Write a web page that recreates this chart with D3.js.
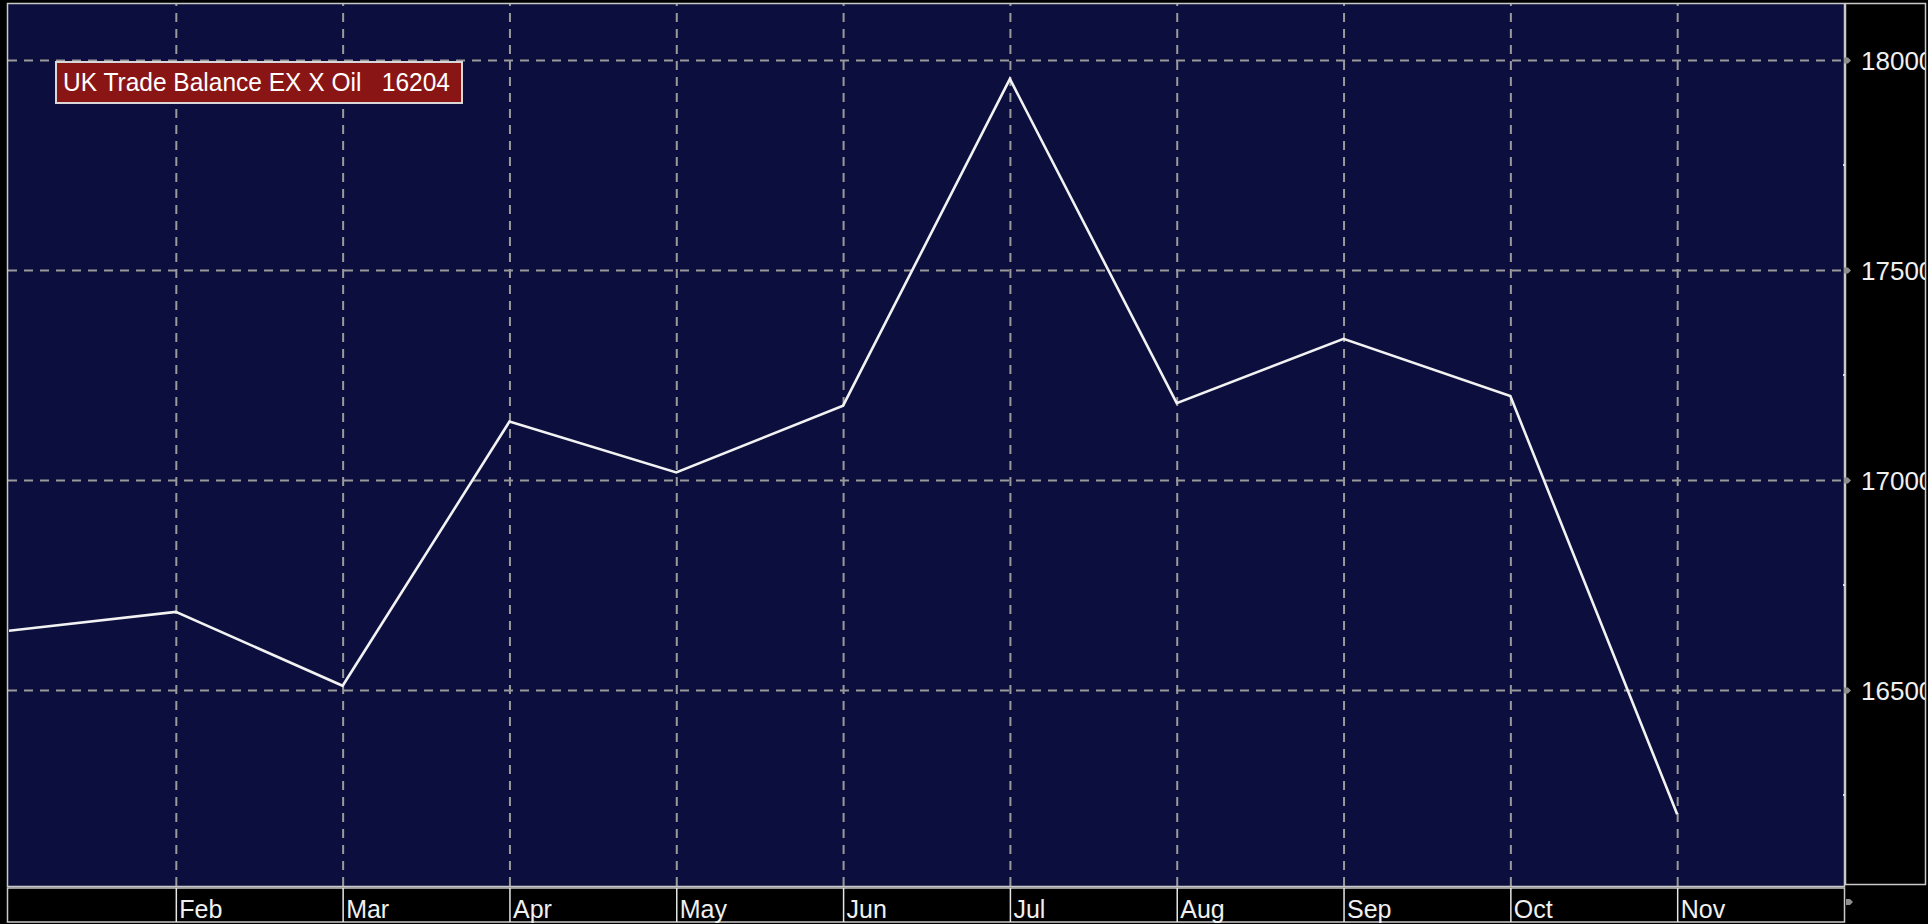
<!DOCTYPE html>
<html>
<head>
<meta charset="utf-8">
<script src="https://cdn.jsdelivr.net/npm/d3@7"></script>
<style>
  html, body { margin: 0; padding: 0; background: #000; overflow: hidden; }
  svg { display: block; }
  text { font-family: "Liberation Sans", Arial, sans-serif; }
</style>
</head>
<body>
<svg id="chart" width="1928" height="924"></svg>
<script>
// ---- data ----
const months = ["Jan","Feb","Mar","Apr","May","Jun","Jul","Aug","Sep","Oct","Nov","Dec"];
const dataMonths = ["Jan","Feb","Mar","Apr","May","Jun","Jul","Aug","Sep","Oct","Nov"];
const values = [16641, 16686, 16510, 17139, 17018, 17177, 17955, 17183, 17336, 17200, 16204];
const xTickLabels = ["Feb","Mar","Apr","May","Jun","Jul","Aug","Sep","Oct","Nov"];
const yTickValues = [16500, 17000, 17500, 18000];
const yMinorValues = [16250, 16750, 17250, 17750];
const legendName = "UK Trade Balance EX X Oil";
const legendValue = "16204";

// ---- layout ----
const W = 1928, H = 924;
const plot = { left: 8, right: 1844, top: 4, bottom: 886 };
const svg = d3.select("#chart");

const x = d3.scalePoint().domain(months).range([plot.left + 1, plot.right]);
const y = d3.scaleLinear().domain([16035.7, 18131]).range([885, 5]);

const navy = "#0c0f3d";
const gridColor = "#9a9a9a";
const borderColor = "#c9c9c9";

// background
svg.append("rect").attr("width", W).attr("height", H).attr("fill", "#000");
svg.append("rect")
  .attr("x", plot.left).attr("y", plot.top)
  .attr("width", plot.right - plot.left).attr("height", plot.bottom - plot.top)
  .attr("fill", navy);

// grid: horizontal
const gy = svg.append("g").attr("transform", `translate(${plot.left},0)`)
  .call(d3.axisRight(y).tickValues(yTickValues).tickSize(plot.right - plot.left).tickFormat(""));
gy.select(".domain").remove();
gy.selectAll(".tick line").attr("stroke", gridColor).attr("stroke-width", 2).attr("stroke-dasharray", "9,7");

// grid: vertical
const gx = svg.append("g").attr("transform", `translate(0,${plot.bottom})`)
  .call(d3.axisTop(x).tickValues(xTickLabels).tickSize(plot.bottom - plot.top).tickFormat(""));
gx.select(".domain").remove();
gx.selectAll(".tick line").attr("stroke", gridColor).attr("stroke-width", 2).attr("stroke-dasharray", "9,7");

// line
const line = d3.line().x((d, i) => x(dataMonths[i])).y(d => y(d));
svg.append("path").datum(values)
  .attr("d", line).attr("fill", "none")
  .attr("stroke", "#f2f2f2").attr("stroke-width", 2.6).attr("stroke-linejoin", "miter");

// plot border
svg.append("rect")
  .attr("x", plot.left - 0.5).attr("y", plot.top - 0.5)
  .attr("width", plot.right - plot.left + 1).attr("height", plot.bottom - plot.top + 1)
  .attr("fill", "none").attr("stroke", borderColor).attr("stroke-width", 1.5);

// right axis panel
svg.append("rect")
  .attr("x", plot.right + 1.5).attr("y", plot.top - 0.5)
  .attr("width", W - plot.right - 4).attr("height", plot.bottom - plot.top - 1)
  .attr("fill", "#000").attr("stroke", borderColor).attr("stroke-width", 1.5);

const yAxis = svg.append("g").attr("transform", `translate(${plot.right},0)`)
  .call(d3.axisRight(y).tickValues(yTickValues).tickSize(0).tickPadding(17).tickFormat(d3.format("d")));
yAxis.select(".domain").remove();
yAxis.selectAll(".tick text")
  .attr("fill", "#f0f0f0").attr("font-size", 26)
  .attr("font-family", "Liberation Sans, Arial, sans-serif")
  .attr("dy", "0.36em");
yAxis.selectAll(".tick").append("path")
  .attr("d", "M0,-3 L4,-3 L7,0 L4,3 L0,3 Z").attr("fill", "#8e8e8e");

// minor ticks on right border
svg.append("g").selectAll("rect").data(yMinorValues).join("rect")
  .attr("x", plot.right - 1).attr("y", d => y(d) - 1)
  .attr("width", 2).attr("height", 2).attr("fill", "#e0e0e0");

// clip right labels at panel edge
yAxis.attr("clip-path", "url(#rclip)");
svg.append("clipPath").attr("id", "rclip").append("rect")
  .attr("x", 0).attr("y", 0).attr("width", W - 3 - plot.right).attr("height", H);

// x axis strip
const strip = { top: 888, bottom: 922 };
svg.append("rect")
  .attr("x", plot.left - 0.5).attr("y", strip.top)
  .attr("width", plot.right - plot.left + 1).attr("height", strip.bottom - strip.top)
  .attr("fill", "#000").attr("stroke", borderColor).attr("stroke-width", 1.5);

const xAxis = svg.append("g").attr("transform", `translate(0,${strip.top})`)
  .call(d3.axisBottom(x).tickValues(xTickLabels).tickSize(strip.bottom - strip.top).tickFormat(d => d));
xAxis.select(".domain").remove();
xAxis.selectAll(".tick line").attr("stroke", "#e6e6e6").attr("stroke-width", 1.5);
xAxis.selectAll(".tick text")
  .attr("fill", "#f0f0f0").attr("font-size", 25)
  .attr("font-family", "Liberation Sans, Arial, sans-serif")
  .attr("text-anchor", "start").attr("x", 3).attr("y", 30).attr("dy", 0);

// small marker bottom-right
svg.append("path")
  .attr("transform", `translate(${plot.right + 2},${902})`)
  .attr("d", "M0,-3 L4,-3 L7,0 L4,3 L0,3 Z").attr("fill", "#8e8e8e");

// legend
const lg = svg.append("g");
lg.append("rect")
  .attr("x", 56).attr("y", 62).attr("width", 406).attr("height", 41)
  .attr("fill", "#8a1515").attr("stroke", "#d8d8d8").attr("stroke-width", 2);
lg.append("text")
  .attr("x", 63).attr("y", 91)
  .attr("fill", "#ffffff").attr("font-size", 25)
  .style("white-space", "pre")
  .attr("textLength", 387).attr("lengthAdjust", "spacingAndGlyphs")
  .text(legendName + "   " + legendValue);
</script>
</body>
</html>
